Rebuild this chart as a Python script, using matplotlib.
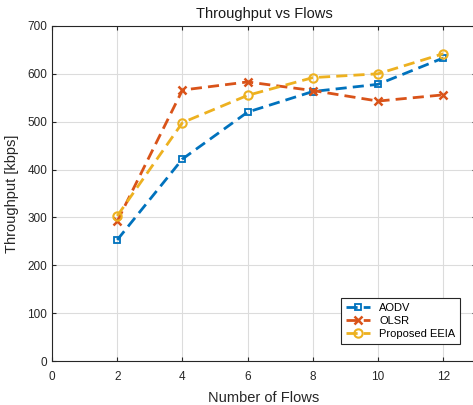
import matplotlib
matplotlib.use("Agg")
import matplotlib.pyplot as plt

flows = [2, 4, 6, 8, 10, 12]
aodv = [253, 422, 520, 563, 578, 633]
olsr = [292, 566, 583, 565, 543, 556]
eeia = [303, 498, 555, 592, 600, 642]

plt.rcParams["font.family"] = ["Liberation Sans", "DejaVu Sans"]

fig = plt.figure(figsize=(4.73, 4.05), dpi=100)
ax = fig.add_axes([0.110, 0.1086, 0.896, 0.8274])

ax.plot(flows, aodv, "--s", color="#0072BD", lw=2, ms=5, mfc="none", mew=1.3,
        dashes=(4, 2.2), label="AODV")
ax.plot(flows, olsr, "--x", color="#D95319", lw=2, ms=6, mew=1.8,
        dashes=(4, 2.2), label="OLSR")
ax.plot(flows, eeia, "--o", color="#EDB120", lw=2, ms=6, mfc="none", mew=1.5,
        dashes=(4, 2.2), label="Proposed EEIA")

ax.set_xlim(0, 13)
ax.set_ylim(0, 700)
ax.set_xticks(range(0, 13, 2))
ax.set_yticks(range(0, 701, 100))
ax.grid(True, color="#dcdcdc", lw=0.8)
ax.set_axisbelow(True)
ax.tick_params(direction="in", colors="#262626", length=3, labelsize=8.5,
               top=True, right=True)
ax.tick_params(axis="x", pad=7)
for s in ax.spines.values():
    s.set_color("#262626")
    s.set_linewidth(0.8)

ax.set_xlabel("Number of Flows", fontsize=10.5, color="#262626", labelpad=6)
ax.set_ylabel("Throughput [kbps]", fontsize=10.5, color="#262626", labelpad=6)
ax.set_title("Throughput vs Flows", fontsize=10.5, color="#1a1a1a")

leg = ax.legend(loc="lower right", bbox_to_anchor=(0.975, 0.035), fontsize=8,
                fancybox=False, framealpha=1, edgecolor="#262626",
                handlelength=2.2, borderpad=0.4, labelspacing=0.3)
leg.get_frame().set_linewidth(0.8)

fig.savefig("out.png", dpi=100)
